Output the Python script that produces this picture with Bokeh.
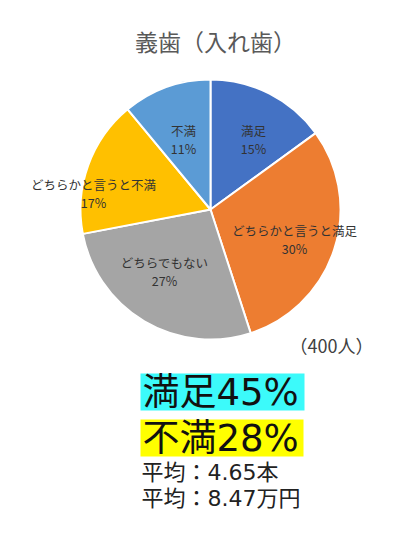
from bokeh.plotting import figure
from bokeh.models import Range1d, ColumnDataSource
from bokeh.core.properties import value
from bokeh.embed import file_html
from bokeh.resources import INLINE
import math

title = "義歯（入れ歯）"
categories = ["満足", "どちらかと言うと満足", "どちらでもない", "どちらかと言うと不満", "不満"]
percents = [15, 30, 27, 17, 11]
colors = ["#4472C4", "#ED7D31", "#A5A5A5", "#FFC000", "#5B9BD5"]
sample_note = "（400人）"
summary_satisfied = "満足45%"
summary_dissatisfied = "不満28%"
avg_count = "平均：4.65本"
avg_cost = "平均：8.47万円"

W, H = 393, 537
FONT = "Noto Sans CJK JP"
MIXED = "DejaVu Sans, Noto Sans CJK JP"

p = figure(width=W, height=H, output_backend="svg", toolbar_location=None,
           x_range=Range1d(0, W), y_range=Range1d(H, 0),
           min_border=0, outline_line_color=None)
p.axis.visible = False
p.grid.visible = False
p.background_fill_color = "white"
p.border_fill_color = "white"

cx, cy, r = 210, 209, 130

# wedges, clockwise from 12 o'clock
total = sum(percents)
starts, ends = [], []
acc = 0
for v in percents:
    c0 = acc / total
    acc += v
    c1 = acc / total
    starts.append(math.pi / 2 - 2 * math.pi * c1)
    ends.append(math.pi / 2 - 2 * math.pi * c0)

src = ColumnDataSource(dict(start=starts, end=ends, color=colors, cat=categories))
p.wedge(x=cx, y=cy, radius=r, start_angle="start", end_angle="end",
        fill_color="color", line_color="white", line_width=2, source=src)

# data label offsets from the pie centre (layout)
offsets = [(43, -70), (84, 30), (-46, 62), (-117, -16), (-27, -70)]
lx = [cx + o[0] for o in offsets]
ly = [cy + o[1] for o in offsets]
ltxt = [f"{c}\n{v}%" for c, v in zip(categories, percents)]
p.text(x=lx, y=ly, text=ltxt, text_font=value(FONT), text_font_size="12.5px",
       text_color="#333333", text_align="center", text_baseline="middle",
       text_line_height=0.95)

# title
p.text(x=[215], y=[40], text=[title], text_font=value(FONT), text_font_size="23px",
       text_color="#595959", text_align="center", text_baseline="middle")

# sample note
p.text(x=[331], y=[344], text=[sample_note], text_font=value(FONT), text_font_size="18px",
       text_color="#404040", text_align="center", text_baseline="middle")

# highlight boxes (layout decoration)
p.quad(left=[140, 140], right=[304, 303], top=[373, 419], bottom=[410, 456],
       fill_color=["#3CFAFA", "#FFFF00"], line_color=None)

p.text(x=[142], y=[392], text=[summary_satisfied], text_font=value(MIXED),
       text_font_size="37px", text_color="#111111", text_align="left",
       text_baseline="middle")
p.text(x=[142], y=[438], text=[summary_dissatisfied], text_font=value(MIXED),
       text_font_size="37px", text_color="#111111", text_align="left",
       text_baseline="middle")

p.text(x=[141], y=[472], text=[avg_count], text_font=value(MIXED), text_font_size="22px",
       text_color="#222222", text_align="left", text_baseline="middle")
p.text(x=[141], y=[498], text=[avg_cost], text_font=value(MIXED), text_font_size="22px",
       text_color="#222222", text_align="left", text_baseline="middle")

open("out.html", "w").write(file_html(p, INLINE))
